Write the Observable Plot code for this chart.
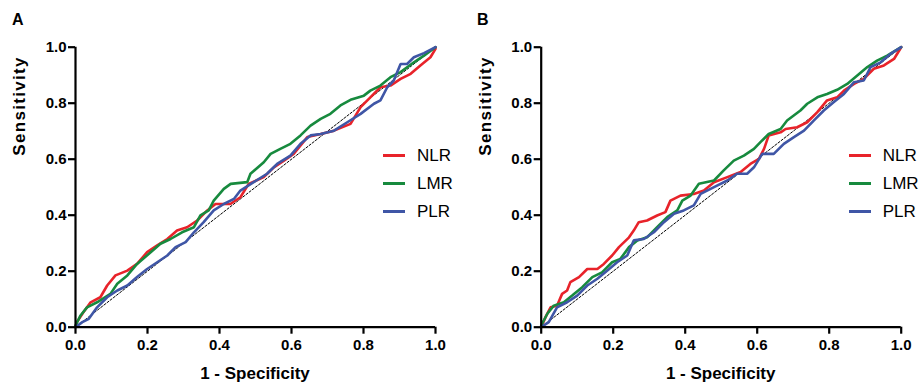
<!DOCTYPE html>
<html><head><meta charset="utf-8">
<script src="https://cdn.jsdelivr.net/npm/d3@7"></script>
<script src="https://cdn.jsdelivr.net/npm/@observablehq/plot@0.6"></script>
<style>
body{margin:0;background:#fff;font-family:"Liberation Sans",Arial,sans-serif;color:#000;}
#wrap{position:relative;width:921px;height:383px;overflow:hidden;background:#fff;}
.panel{position:absolute;top:0;width:460px;height:383px;}
.panel svg{position:absolute;left:0;top:0;}
.letter{position:absolute;top:12px;font-weight:bold;font-size:16px;line-height:16px;}
.ylab{position:absolute;font-weight:bold;font-size:17px;letter-spacing:1.3px;transform:translate(-50%,-50%) rotate(-90deg);white-space:nowrap;line-height:17px;}
.xlab{position:absolute;font-weight:bold;font-size:17px;transform:translate(-50%,-50%);white-space:nowrap;line-height:17px;}
.leg{position:absolute;font-size:17px;line-height:17px;white-space:nowrap;}
.leg span.sw{display:inline-block;width:22px;height:3px;vertical-align:middle;margin-right:12px;position:relative;top:-1px;}
</style>
</head><body>
<div id="wrap"></div>
<script>
// ---- Data ----
const seriesNames = ["NLR", "LMR", "PLR"];
const seriesColors = ["#e8232a", "#178a3e", "#3f56a6"];
const tickValues = [0, 0.2, 0.4, 0.6, 0.8, 1.0];
const refX = [0, 1];
const refY = [0, 1];

// Panel A
const aNlrX = [0,0.004,0.02,0.042,0.069,0.088,0.111,0.144,0.171,0.199,0.227,0.255,0.282,0.31,0.338,0.366,0.389,0.43,0.458,0.481,0.523,0.551,0.579,0.606,0.644,0.681,0.718,0.764,0.792,0.819,0.847,0.875,0.903,0.931,0.958,0.986,1.0,1.0];
const aNlrY = [0,0.018,0.05,0.089,0.107,0.149,0.185,0.202,0.226,0.268,0.292,0.315,0.345,0.357,0.381,0.417,0.44,0.44,0.464,0.512,0.536,0.571,0.595,0.619,0.679,0.69,0.702,0.726,0.786,0.821,0.857,0.863,0.887,0.905,0.935,0.964,0.994,1.0];
const aLmrX = [0,0.014,0.032,0.06,0.097,0.116,0.144,0.171,0.204,0.236,0.264,0.296,0.329,0.347,0.37,0.384,0.412,0.431,0.477,0.486,0.523,0.542,0.569,0.597,0.625,0.653,0.681,0.708,0.736,0.764,0.801,0.819,0.847,0.875,0.903,0.94,0.968,1.0];
const aLmrY = [0.006,0.042,0.071,0.089,0.119,0.155,0.185,0.226,0.262,0.298,0.315,0.339,0.357,0.399,0.417,0.452,0.494,0.512,0.518,0.548,0.589,0.619,0.637,0.655,0.685,0.72,0.744,0.762,0.792,0.812,0.827,0.845,0.863,0.893,0.911,0.946,0.97,1.0];
const aPlrX = [0,0.019,0.037,0.06,0.088,0.116,0.144,0.171,0.199,0.227,0.255,0.278,0.306,0.329,0.356,0.384,0.412,0.44,0.458,0.495,0.532,0.56,0.597,0.625,0.653,0.681,0.718,0.755,0.792,0.829,0.847,0.866,0.884,0.903,0.921,0.94,0.968,1.0];
const aPlrY = [0,0.018,0.03,0.071,0.107,0.131,0.149,0.179,0.208,0.232,0.256,0.286,0.304,0.339,0.375,0.417,0.44,0.458,0.488,0.518,0.548,0.583,0.613,0.655,0.685,0.69,0.702,0.732,0.762,0.798,0.81,0.857,0.881,0.94,0.94,0.964,0.979,1.0];

// Panel B
const bNlrX = [0,0.012,0.026,0.044,0.058,0.072,0.081,0.105,0.128,0.156,0.174,0.197,0.216,0.244,0.257,0.271,0.294,0.322,0.345,0.359,0.387,0.424,0.452,0.48,0.517,0.554,0.581,0.605,0.619,0.632,0.665,0.679,0.711,0.739,0.767,0.794,0.822,0.841,0.869,0.896,0.924,0.952,0.98,1.0];
const bNlrY = [0,0.036,0.071,0.077,0.119,0.131,0.161,0.179,0.208,0.208,0.226,0.256,0.286,0.321,0.345,0.375,0.381,0.399,0.411,0.452,0.47,0.476,0.488,0.518,0.536,0.554,0.583,0.601,0.637,0.685,0.696,0.708,0.714,0.732,0.768,0.81,0.821,0.845,0.869,0.887,0.923,0.935,0.958,1.0];
const bLmrX = [0,0.017,0.035,0.063,0.086,0.114,0.142,0.169,0.197,0.22,0.244,0.267,0.294,0.322,0.35,0.378,0.392,0.415,0.438,0.48,0.507,0.535,0.563,0.591,0.609,0.632,0.665,0.683,0.72,0.739,0.767,0.794,0.822,0.85,0.878,0.906,0.933,0.961,1.0];
const bLmrY = [0.006,0.048,0.077,0.089,0.113,0.143,0.179,0.196,0.232,0.244,0.286,0.31,0.321,0.357,0.393,0.417,0.452,0.47,0.512,0.524,0.56,0.595,0.613,0.637,0.661,0.69,0.708,0.738,0.774,0.798,0.821,0.833,0.848,0.869,0.899,0.929,0.952,0.97,1.0];
const bPlrX = [0,0.021,0.044,0.072,0.1,0.128,0.156,0.183,0.211,0.239,0.257,0.285,0.313,0.341,0.369,0.396,0.424,0.443,0.48,0.517,0.544,0.572,0.591,0.614,0.646,0.674,0.702,0.73,0.757,0.785,0.813,0.841,0.869,0.896,0.915,0.943,0.97,1.0];
const bPlrY = [0,0.018,0.071,0.089,0.113,0.149,0.173,0.202,0.232,0.256,0.31,0.315,0.339,0.375,0.405,0.417,0.435,0.476,0.5,0.524,0.548,0.548,0.571,0.619,0.619,0.655,0.679,0.702,0.738,0.774,0.804,0.833,0.875,0.881,0.929,0.946,0.976,1.0];

const xTitle = "1 - Specificity";
const yTitle = "Sensitivity";

function rowsFrom(list){
  const rows = [];
  list.forEach(([name, xs, ys]) => xs.forEach((x, i) => rows.push({series: name, fpr: x, tpr: ys[i]})));
  return rows;
}

const panels = [
  {letter: "A", left: 0, ml: 75, mr: 25, series: [["NLR", aNlrX, aNlrY], ["LMR", aLmrX, aLmrY], ["PLR", aPlrX, aPlrY]]},
  {letter: "B", left: 460, ml: 80.7, mr: 19.3, series: [["NLR", bNlrX, bNlrY], ["LMR", bLmrX, bLmrY], ["PLR", bPlrX, bPlrY]]}
];

const wrap = document.getElementById("wrap");
const refRows = refX.map((x, i) => ({fpr: x, tpr: refY[i]}));

panels.forEach(p => {
  const div = document.createElement("div");
  div.className = "panel";
  div.style.left = p.left + "px";
  wrap.appendChild(div);
  const rows = rowsFrom(p.series);
  const chart = Plot.plot({
    width: 460, height: 383,
    marginLeft: p.ml, marginRight: p.mr, marginTop: 46.7, marginBottom: 56.3,
    x: {domain: [0, 1]},
    y: {domain: [0, 1]},
    color: {domain: seriesNames, range: seriesColors},
    style: {fontFamily: "'Liberation Sans', Arial, sans-serif", fontSize: "15px", fontWeight: "bold", color: "#000", background: "transparent", overflow: "visible"},
    marks: [
      Plot.line(refRows, {x: "fpr", y: "tpr", stroke: "#000", strokeWidth: 1, strokeDasharray: "2.2,1.8"}),
      Plot.line(rows, {x: "fpr", y: "tpr", z: "series", stroke: "series", strokeWidth: 2.6, strokeLinejoin: "miter"}),
      Plot.ruleY([0], {stroke: "#000", strokeWidth: 2.2}),
      Plot.ruleX([0], {stroke: "#000", strokeWidth: 2.2}),
      Plot.axisX({ticks: tickValues, tickFormat: d3.format(".1f"), tickSize: 7, tickPadding: 5, strokeWidth: 2.2, label: null}),
      Plot.axisY({ticks: tickValues, tickFormat: d3.format(".1f"), tickSize: 7, tickPadding: 2, strokeWidth: 2.2, label: null})
    ]
  });
  div.appendChild(chart);

  const L = document.createElement("div");
  L.className = "letter"; L.textContent = p.letter;
  L.style.left = (p.letter === "A" ? 12 : 17) + "px";
  div.appendChild(L);

  const yl = document.createElement("div");
  yl.className = "ylab"; yl.textContent = yTitle;
  yl.style.left = (p.ml - 56) + "px"; yl.style.top = "106px";
  div.appendChild(yl);

  const xl = document.createElement("div");
  xl.className = "xlab"; xl.textContent = xTitle;
  xl.style.left = (p.ml + 180) + "px"; xl.style.top = "373px";
  div.appendChild(xl);

  seriesNames.forEach((name, i) => {
    const g = document.createElement("div");
    g.className = "leg";
    g.style.left = (p.ml + 308) + "px";
    g.style.top = (147 + i * 28) + "px";
    g.innerHTML = `<span class="sw" style="background:${seriesColors[i]}"></span>${name}`;
    div.appendChild(g);
  });
});
</script>
</body></html>
